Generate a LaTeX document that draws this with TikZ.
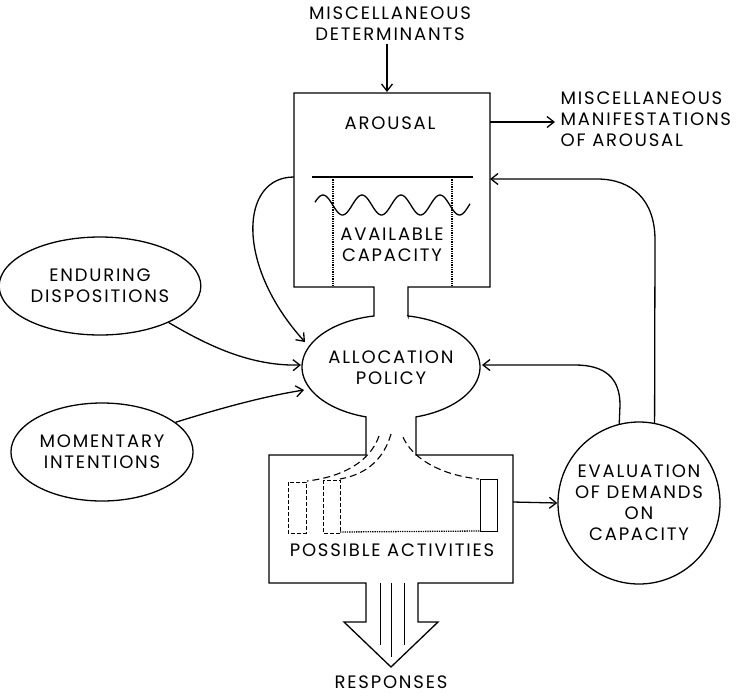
\documentclass[tikz,border=0pt]{standalone}
\usepackage{fontspec}
\setmainfont{Poppins}[LetterSpace=10]
\usetikzlibrary{arrows,arrows.meta,shapes.geometric,calc}

\begin{document}
\begin{tikzpicture}[x=1pt,y=-1pt,line width=1.3pt,
  caps/.style={align=center,font=\fontsize{18}{21}\selectfont,inner sep=2pt},
  oval/.style={ellipse,draw,line width=1.3pt,minimum width=180pt,minimum height=98pt,inner sep=0pt,caps},
  round_box/.style={circle,draw,line width=1.3pt,minimum size=162pt,inner sep=0pt,caps},
  edge/.style={line width=1.3pt,->,>={Straight Barb[length=7pt,width=11pt]}},
  slot/.style={line width=1pt,dash pattern=on 4pt off 2pt},
  flow/.style={line width=1.1pt,dash pattern=on 7pt off 4pt}]
\useasboundingbox (0,0) rectangle (739,697);
% outline: arousal box, allocation oval, activities box and response arrow
\draw (294,93) -- (490,93) -- (490,287) -- (408,287) -- (408,316)
  -- plot[domain=281:433.7,samples=50] ({391+89*cos(\x)},{367+52*sin(\x)})
  -- (416,455) -- (513,455) -- (513,583) -- (418,583) -- (418,622) -- (438,622)
  -- (391,667) -- (344,622) -- (366,622) -- (366,583) -- (269,583) -- (269,455) -- (366,455)
  -- plot[domain=106.3:259,samples=50] ({391+89*cos(\x)},{367+52*sin(\x)})
  -- (374,287) -- (294,287) -- cycle;
\draw [line width=1pt] (380,583) -- (380,645);
\draw [line width=1pt] (391,583) -- (391,657);
\draw [line width=1pt] (404,583) -- (404,645);

\node (determinants) [caps] at (390,24) {MISCELLANEOUS\\DETERMINANTS};
\node (arousal) [caps] at (390,123) {AROUSAL};
\node (capacity) [caps] at (392,245) {AVAILABLE\\CAPACITY};
\node (allocation) [caps] at (391,368) {ALLOCATION\\POLICY};
\node (activities) [caps] at (392,550) {POSSIBLE ACTIVITIES};
\node (responses) [caps] at (391,682) {RESPONSES};
\node (manifestations) [caps,align=left,anchor=west] at (558,119) {MISCELLANEOUS\\MANIFESTATIONS\\OF AROUSAL};
\node (enduring) [oval] at (100,286) {ENDURING\\DISPOSITIONS};
\node (momentary) [oval] at (102,452) {MOMENTARY\\INTENTIONS};
\node (evaluation) [round_box] at (639,503) {EVALUATION\\OF DEMANDS\\ON\\CAPACITY};

\coordinate (arousal_top) at (387,92);
\coordinate (arousal_right) at (490,122);
\coordinate (arousal_left) at (294,177);
\coordinate (arousal_in) at (490,179);
\coordinate (alloc_nw) at (305,342);
\coordinate (alloc_w) at (301,365);
\coordinate (alloc_sw) at (304,390);
\coordinate (alloc_e) at (482,365);
\coordinate (activities_e) at (513,502);
\coordinate (neck_l) at (379,436);
\coordinate (neck_m) at (391,434);
\coordinate (neck_r) at (403,437);

% available capacity
\draw (312,177) -- (473,177);
\draw [densely dotted] (333,177) -- (333,287);
\draw [densely dotted] (452,177) -- (452,287);
\draw plot[domain=315:470,samples=100] (\x,{205-10*sin(9.2308*(\x-352.25))});

% possible activities
\draw [slot] (288,482) rectangle (306,533);
\draw [slot] (323,480) rectangle (340,533);
\draw [line width=1pt] (480,479) rectangle (497,531);
\draw [densely dotted] (340,532) -- (480,531);
\draw [flow] (neck_l) .. controls (370,462) and (342,477) .. (307,481);
\draw [flow] (neck_m) .. controls (384,458) and (368,474) .. (340,479);
\draw [flow] (neck_r) .. controls (412,458) and (440,475) .. (479,479);

\draw [edge] (determinants.south -| arousal_top) -- (arousal_top);
\draw [edge,shorten >=3pt] (arousal_right) -- (manifestations.west |- arousal_right);
\draw [edge] (arousal_left) .. controls (240,177) and (235,265) .. (alloc_nw);
\draw [edge] (enduring.-28) .. controls (215,350) and (255,366) .. (alloc_w);
\draw [edge] (momentary.22) .. controls (215,410) and (260,397) .. (alloc_sw);
\draw [edge] (evaluation.104) -- (620,405) .. controls (620,378) and (605,365) .. (575,365) -- (alloc_e);
\draw [edge] (evaluation.79) -- (655,240) .. controls (655,200) and (632,179) .. (597,179) -- (arousal_in);
\draw [edge] (activities_e) -- (evaluation.west);
\end{tikzpicture}
\end{document}
